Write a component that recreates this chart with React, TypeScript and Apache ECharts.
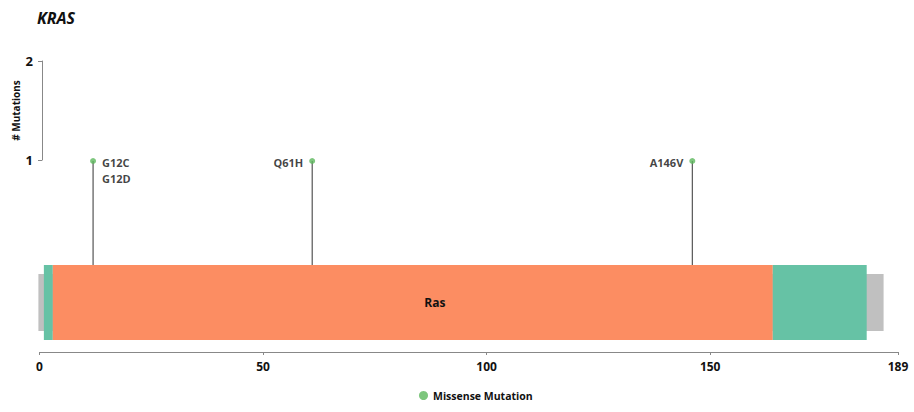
import React, { useEffect, useRef } from "react";
import * as echarts from "echarts";

const geneName = "KRAS";
const proteinLength = 189;
const axisEnd = 192;
const xTickValues = [0, 50, 100, 150, axisEnd];
const xTickLabels = ["0", "50", "100", "150", String(proteinLength)];

const domainStarts = [1, 3, 164];
const domainEnds = [3, 164, 185];
const domainNames = ["", "Ras", ""];
const domainColors = ["#66c2a5", "#fc8d62", "#66c2a5"];

const mutationPositions = [12, 61, 146];
const mutationCounts = [1, 1, 1];
const mutationLabels = ["G12C\nG12D", "Q61H", "A146V"];
const mutationLabelSides = ["right", "left", "left"];

const FONT = "'Open Sans', 'Noto Sans', sans-serif";
const DOMAIN_TOP = -0.04;
const DOMAIN_BOTTOM = -0.79;
const BACKBONE_TOP = -0.13;
const BACKBONE_BOTTOM = -0.7;

export default function App() {
  const ref = useRef<HTMLDivElement>(null);
  useEffect(() => {
    if (!ref.current) return;
    const chart = echarts.init(ref.current, null, { renderer: "svg" });
    const domainData = domainStarts.map((s, i) => [s, domainEnds[i], i]);
    chart.setOption({
      animation: false,
      backgroundColor: "#fff",
      textStyle: { fontFamily: FONT },
      title: {
        text: geneName,
        left: 32,
        top: 5,
        textStyle: { fontFamily: FONT, fontSize: 16, fontWeight: "bold", fontStyle: "italic", color: "#111" },
      },
      legend: {
        bottom: 6,
        left: 414,
        itemWidth: 9,
        itemHeight: 9,
        itemGap: 10,
        data: [{ name: "Missense Mutation", icon: "circle" }],
        textStyle: { fontFamily: FONT, fontSize: 10.5, fontWeight: "bold", color: "#111" },
      },
      grid: [
        { left: 39.4, right: 16, top: 61, bottom: 60 },
        { left: 42, width: 10, top: 61, height: 99 },
      ],
      xAxis: [
        {
          type: "value",
          gridIndex: 0,
          min: 0,
          max: axisEnd,
          axisLine: { show: true, onZero: false, lineStyle: { color: "#888", width: 1 } },
          axisTick: { show: true, length: 3, lineStyle: { color: "#888" }, customValues: xTickValues },
          axisLabel: {
            customValues: xTickValues,
            margin: 8,
            fontFamily: FONT,
            fontSize: 12,
            fontWeight: "bold",
            color: "#111",
            formatter: (v: number) => {
              const i = xTickValues.indexOf(v);
              return i >= 0 ? xTickLabels[i] : "";
            },
          },
          splitLine: { show: false },
          position: "bottom",
        },
        { type: "value", gridIndex: 1, show: false, min: 0, max: 1 },
      ],
      yAxis: [
        { type: "value", gridIndex: 0, show: false, min: -0.91, max: 2 },
        {
          type: "value",
          gridIndex: 1,
          min: 1,
          max: 2,
          interval: 1,
          name: "# Mutations",
          nameLocation: "middle",
          nameRotate: 90,
          nameGap: 21,
          nameTextStyle: { fontFamily: FONT, fontSize: 10, fontWeight: "bold", color: "#111" },
          axisLine: { show: true, onZero: false, lineStyle: { color: "#888", width: 1 } },
          axisTick: { show: true, length: 4, lineStyle: { color: "#888" } },
          axisLabel: { margin: 9, fontFamily: FONT, fontSize: 13, fontWeight: "bold", color: "#111" },
          splitLine: { show: false },
        },
      ],
      series: [
        {
          type: "custom",
          name: "backbone",
          xAxisIndex: 0,
          yAxisIndex: 0,
          silent: true,
          z: 1,
          data: [[0, proteinLength]],
          renderItem: (params: any, api: any) => {
            const p0 = api.coord([api.value(0), BACKBONE_TOP]);
            const p1 = api.coord([api.value(1), BACKBONE_BOTTOM]);
            return {
              type: "rect",
              shape: { x: p0[0] - 1, y: p0[1], width: p1[0] - p0[0], height: p1[1] - p0[1] },
              style: { fill: "#c0c0c0" },
            };
          },
        },
        {
          type: "custom",
          name: "stems",
          xAxisIndex: 0,
          yAxisIndex: 0,
          silent: true,
          z: 2,
          data: mutationPositions.map((p, i) => [p, mutationCounts[i]]),
          renderItem: (params: any, api: any) => {
            const top = api.coord([api.value(0), api.value(1)]);
            const bot = api.coord([api.value(0), DOMAIN_TOP]);
            return {
              type: "line",
              shape: { x1: top[0], y1: top[1], x2: bot[0], y2: bot[1] },
              style: { stroke: "#333", lineWidth: 1 },
            };
          },
        },
        {
          type: "custom",
          name: "domains",
          xAxisIndex: 0,
          yAxisIndex: 0,
          silent: true,
          z: 3,
          data: domainData,
          renderItem: (params: any, api: any) => {
            const idx = api.value(2);
            const p0 = api.coord([api.value(0), DOMAIN_TOP]);
            const p1 = api.coord([api.value(1), DOMAIN_BOTTOM]);
            const children: any[] = [
              {
                type: "rect",
                shape: { x: p0[0], y: p0[1], width: p1[0] - p0[0], height: p1[1] - p0[1] },
                style: { fill: domainColors[idx] },
              },
            ];
            if (domainNames[idx]) {
              children.push({
                type: "text",
                style: {
                  text: domainNames[idx],
                  x: (p0[0] + p1[0]) / 2 + 22,
                  y: (p0[1] + p1[1]) / 2,
                  align: "center",
                  verticalAlign: "middle",
                  font: `bold 12px ${FONT}`,
                  fill: "#111",
                },
              });
            }
            return { type: "group", children };
          },
        },
        {
          type: "scatter",
          name: "Missense Mutation",
          xAxisIndex: 0,
          yAxisIndex: 0,
          z: 4,
          symbol: "circle",
          symbolSize: 6,
          itemStyle: { color: "#5cb85c" },
          data: mutationPositions.map((p, i) => ({
            value: [p, mutationCounts[i]],
            label: {
              show: true,
              formatter: mutationLabels[i],
              position: mutationLabelSides[i],
              distance: 6,
              align: mutationLabelSides[i] === "right" ? "left" : "right",
              verticalAlign: "top",
              offset: [0, -7],
              fontFamily: FONT,
              fontSize: 11,
              fontWeight: "bold",
              lineHeight: 16,
              color: "#111",
            },
          })),
        },
      ],
    });
    return () => chart.dispose();
  }, []);
  return <div ref={ref} style={{ width: 914, height: 412, position: "absolute", left: 0, top: 0 }} />;
}
